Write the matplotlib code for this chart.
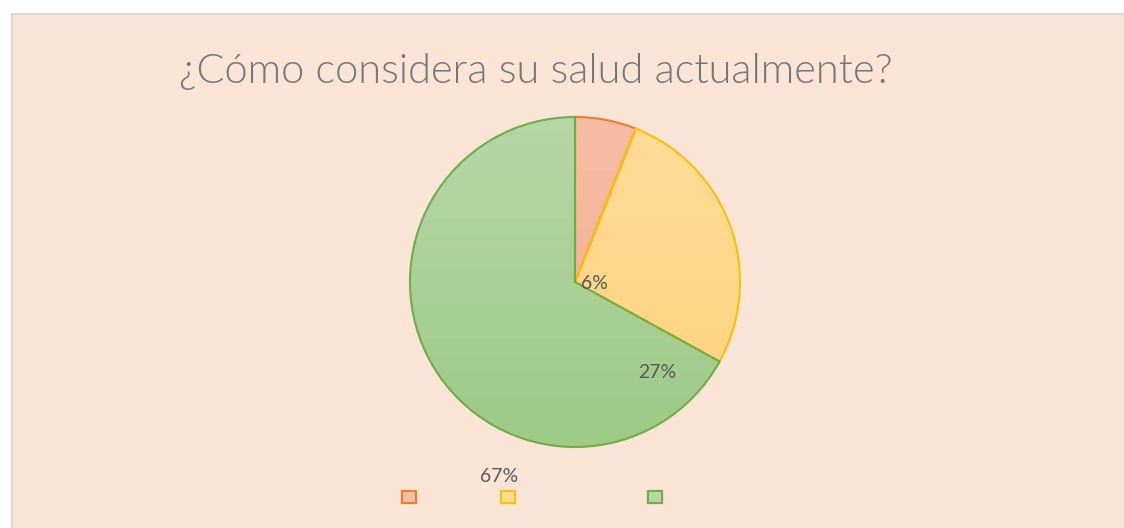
import numpy as np
import matplotlib
matplotlib.use("Agg")
import matplotlib.pyplot as plt
from matplotlib.patches import Rectangle, Patch
from matplotlib.colors import LinearSegmentedColormap

# Survey answers (shares of respondents)
categories = ["Regular", "Buena", "Muy buena"]
shares = [6, 27, 67]
title = "¿Cómo considera su salud actualmente?"

edge_colors = ["#ED7D31", "#FFC000", "#70AD47"]
fill_top = ["#F6BCA4", "#FFDC98", "#B6D7A8"]
fill_bottom = ["#F2B092", "#FFD27C", "#9DCA85"]

W, H, DPI = 1124, 528, 100
fig = plt.figure(figsize=(W / DPI, H / DPI), dpi=DPI, facecolor="white")

# chart area with light border
bg = Rectangle((12 / W, -0.01), 1.2, (H - 14) / H + 0.01, transform=fig.transFigure,
               facecolor="#FAE4D6", edgecolor="#D9D9D9", linewidth=1.5, zorder=-10)
fig.patches.append(bg)

cx, cy, R = 575, H - 282, 165
ax = fig.add_axes([(cx - R) / W, (cy - R) / H, 2 * R / W, 2 * R / H])
ax.axis("off")

wedges, _ = ax.pie(shares, startangle=90, counterclock=False, radius=1,
                   colors=["none"] * 3,
                   wedgeprops=dict(linewidth=1.5, zorder=3))
for w, ec in zip(wedges, edge_colors):
    w.set_edgecolor(ec)
    w.set_clip_on(False)

# vertical gradient fill inside each wedge
grad = np.linspace(0, 1, 256).reshape(-1, 1)
for w, top, bot in zip(wedges, fill_top, fill_bottom):
    cmap = LinearSegmentedColormap.from_list("g", [bot, top])
    im = ax.imshow(grad, extent=[-1, 1, -1, 1], origin="lower", cmap=cmap,
                   aspect="auto", zorder=2, interpolation="bilinear")
    im.set_clip_path(w)
ax.set_xlim(-1, 1)
ax.set_ylim(-1, 1)
ax.set_aspect("equal")

label_pos = [(0.12, -0.01), (0.50, -0.55), (-0.46, -1.18)]
for v, (x, y) in zip(shares, label_pos):
    ax.text(x, y, f"{v}%", ha="center", va="center", fontsize=14,
            color="#595959", family="Lato", zorder=5, clip_on=False)

fig.text(536 / W, 1 - 72 / H, title, ha="center", va="center",
         fontsize=30, color="#767676", family="Lato", fontweight=300)

# legend keys (no text)
legend_x = [409, 508, 655]
for x, fc, ec in zip(legend_x, fill_top, edge_colors):
    h = Patch(facecolor=fc, edgecolor=ec, linewidth=1.5)
    lg = fig.legend([h], [""], loc="center", bbox_to_anchor=(x / W, 1 - 498 / H),
                    frameon=False, handlelength=0.95, handleheight=0.95,
                    handletextpad=0, borderpad=0, fontsize=10)
    fig.add_artist(lg)

fig.savefig("out.png", dpi=DPI, facecolor="white")
